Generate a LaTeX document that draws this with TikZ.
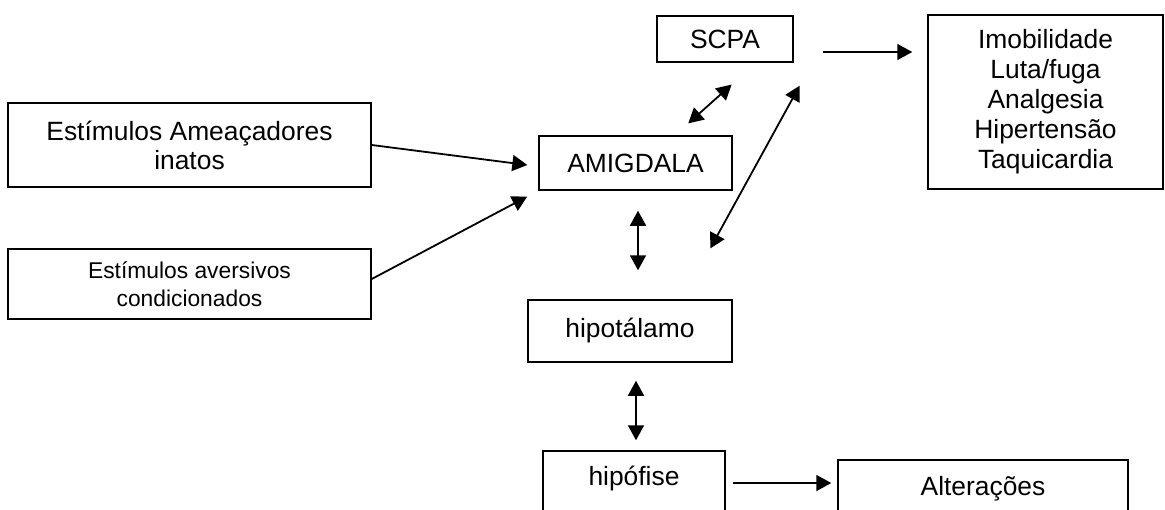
\documentclass[tikz,border=0pt]{standalone}
\usepackage{fontspec}
\setmainfont{Liberation Sans}
\usetikzlibrary{arrows.meta}

\tikzset{
  bloco/.style={draw, line width=1.5pt, inner sep=0pt, align=center,
    font=\fontsize{26.4}{29}\selectfont},
  seta/.style={line width=1.8pt, -{Triangle[length=15pt,width=16pt]}},
  seta2/.style={line width=1.8pt, {Triangle[length=15pt,width=16pt]}-{Triangle[length=15pt,width=16pt]}}
}

\begin{document}
\begin{tikzpicture}[x=1pt, y=-1pt]
	%%%%% START %%%%%
	\clip (0,0) rectangle (1165,509);
	
	\node[bloco, minimum width=363pt, minimum height=84pt] (amea) at (189.5,145) {Estímulos Ameaçadores\\inatos};
	\node[bloco, minimum width=363pt, minimum height=70pt, font=\fontsize{22.8}{28}\selectfont] (avers) at (189.5,284) {Estímulos aversivos\\condicionados};
	
	\node[bloco, minimum width=193pt, minimum height=54pt] (amig) at (635.5,163) {AMIGDALA};
	\node[bloco, minimum width=136pt, minimum height=46pt] (scpa) at (725,39) {SCPA};
	\node[bloco, minimum width=235pt, minimum height=174pt, font=\fontsize{26.4}{30}\selectfont] (resp) at (1045.5,102) {Imobilidade\\Luta/fuga\\Analgesia\\Hipertensão\\Taquicardia};
	
	\node[bloco, minimum width=204pt, minimum height=62pt] (hipot) at (630,331) {hipotálamo};
	\node[bloco, minimum width=182pt, text height=34pt, text depth=40pt, anchor=base] (hipof) at (634,485) {hipófise};
	\node[bloco, minimum width=290pt, text height=35pt, text depth=40pt, anchor=base] (alter) at (983,495) {Alterações};
	
	% entradas da amigdala
	\draw[seta, shorten >=11pt] (amea.east) -- (amig.182);
	\draw[seta, shorten >=12.5pt] ([yshift=5pt]avers.east) -- (amig.south west);
	
	% ligacoes duplas
	\draw[seta2, shorten <=17.8pt, shorten >=32.7pt] ([xshift=39.5pt]amig.north) -- ([xshift=31pt]scpa.south);
	\draw[seta2, shorten <=58pt, shorten >=26.2pt] ([xshift=52.3pt]hipot.north) -- ([xshift=18.5pt]scpa.south east);
	\draw[seta2, shorten <=20pt, shorten >=29pt] ([xshift=2.5pt]amig.south) -- ([xshift=2.5pt]amig.south |- hipot.north);
	\draw[seta2, shorten <=18pt, shorten >=10pt] ([xshift=2pt]hipof.north |- hipot.south) -- ([xshift=2pt]hipof.north);
	
	% saidas
	\draw[seta, shorten <=29pt, shorten >=15pt] ([yshift=-13pt]scpa.east) -- ([yshift=-13pt]scpa.east -| resp.west);
	\draw[seta, shorten <=7pt, shorten >=6pt] ([yshift=2pt]hipof.base east) -- ([yshift=2pt]hipof.base east -| alter.west);
	
	%%%%% END %%%%%
\end{tikzpicture}
\end{document}
